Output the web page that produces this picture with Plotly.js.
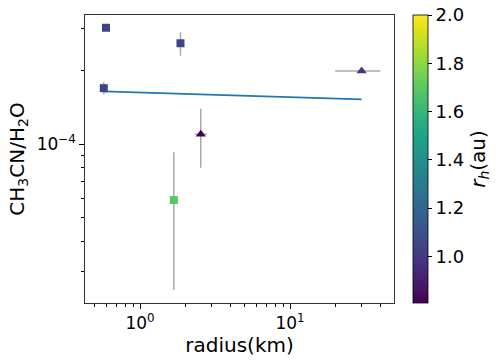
<!DOCTYPE html>
<html>
<head>
<meta charset="utf-8">
<script src="https://cdn.plot.ly/plotly-3.0.1.min.js"></script>
<style>body{margin:0;background:#fff}</style>
</head>
<body>
<div id="chart" style="width:498px;height:362px"></div>
<script>
// radius (km), CH3CN/H2O ratio, heliocentric distance r_h (au)
var radius  = [0.593, 1.86, 0.573, 2.54, 1.68, 30.0];
var ratio   = [3.01e-4, 2.60e-4, 1.70e-4, 1.10e-4, 5.9e-5, 2.0e-4];
var rh      = [1.05, 1.05, 1.05, 0.81, 1.68, 1.0];
var shapes  = ['square', 'square', 'square', 'triangle-up', 'square', 'triangle-up'];
var sizes   = [8, 8, 8, 9, 8, 9];
var errYup  = [0, 0.28e-4, 0.10e-4, 0.30e-4, 3.37e-5, 0];
var errYlo  = [0, 0.29e-4, 0.10e-4, 0.30e-4, 3.38e-5, 0];
var errXup  = [0, 0, 0.02, 0.24, 0, 10];
var errXlo  = [0, 0, 0.02, 0.21, 0, 10];

// power-law fit
var fitX = [0.573, 30.0];
var fitY = [1.65e-4, 1.53e-4];

var xMinor = [0.5, 0.6, 0.7, 0.8, 0.9, 2, 3, 4, 5, 6, 7, 8, 9, 20, 30, 40];
var yMinor = [3e-5, 4e-5, 5e-5, 6e-5, 7e-5, 8e-5, 9e-5, 2e-4, 3e-4];

var lab = {family: 'DejaVu Sans', size: 20, color: '#000'};
var tck = {family: 'DejaVu Sans', size: 17, color: '#000'};
var cbt = {family: 'DejaVu Sans', size: 18, color: '#000'};

var fit = {
  x: fitX, y: fitY,
  mode: 'lines',
  line: {color: '#1f77b4', width: 1.8},
  showlegend: false,
  hoverinfo: 'skip'
};

var pts = {
  x: radius, y: ratio,
  mode: 'markers',
  showlegend: false,
  marker: {
    symbol: shapes,
    size: sizes,
    opacity: 1,
    color: rh,
    colorscale: 'Viridis',
    cmin: 0.807,
    cmax: 2.0,
    line: {width: 0},
    colorbar: {
      x: 1.061, xanchor: 'left', xpad: 0, ypad: 0,
      y: 0.5, yanchor: 'middle', len: 1, lenmode: 'fraction',
      thickness: 15,
      outlinewidth: 0.8, outlinecolor: '#000',
      ticks: 'outside', ticklen: 4, tickcolor: '#000',
      tickvals: [1.0, 1.2, 1.4, 1.6, 1.8, 2.0],
      ticktext: ['1.0', '1.2', '1.4', '1.6', '1.8', '2.0'],
      tickfont: cbt,
      title: {text: '<i>r</i><sub><i>h</i></sub>(au)', side: 'right', font: lab}
    }
  },
  error_y: {type: 'data', symmetric: false, array: errYup, arrayminus: errYlo,
            color: '#aaaaaa', thickness: 1.5, width: 0},
  error_x: {type: 'data', symmetric: false, array: errXup, arrayminus: errXlo,
            color: '#aaaaaa', thickness: 1.5, width: 0}
};

var layout = {
  width: 498, height: 362,
  margin: {l: 85, r: 104, t: 15, b: 59, autoexpand: false},
  paper_bgcolor: '#fff', plot_bgcolor: '#fff',
  font: tck,
  xaxis: {
    type: 'log', range: [-0.367, 1.693],
    showgrid: false, zeroline: false,
    showline: true, mirror: true, linecolor: '#000', linewidth: 0.8,
    ticks: 'outside', ticklen: 5, tickcolor: '#000',
    tickvals: [1, 10], ticktext: ['10<sup>0</sup>', '10<sup>1</sup>'],
    tickfont: tck,
    minor: {ticks: 'outside', ticklen: 3, tickcolor: '#000', tickvals: xMinor, showgrid: false},
    title: {text: 'radius(km)', font: lab, standoff: 2}
  },
  yaxis: {
    type: 'log', range: [-4.652, -3.469],
    showgrid: false, zeroline: false,
    showline: true, mirror: true, linecolor: '#000', linewidth: 0.8,
    ticks: 'outside', ticklen: 5, tickcolor: '#000',
    tickvals: [1e-4], ticktext: ['10<sup>\u22124</sup>'],
    tickfont: tck,
    minor: {ticks: 'outside', ticklen: 3, tickcolor: '#000', tickvals: yMinor, showgrid: false},
    title: {text: 'CH<sub>3</sub>CN/H<sub>2</sub>O', font: lab, standoff: 6}
  }
};

Plotly.newPlot('chart', [fit, pts], layout, {staticPlot: true, displayModeBar: false});
</script>
</body>
</html>
